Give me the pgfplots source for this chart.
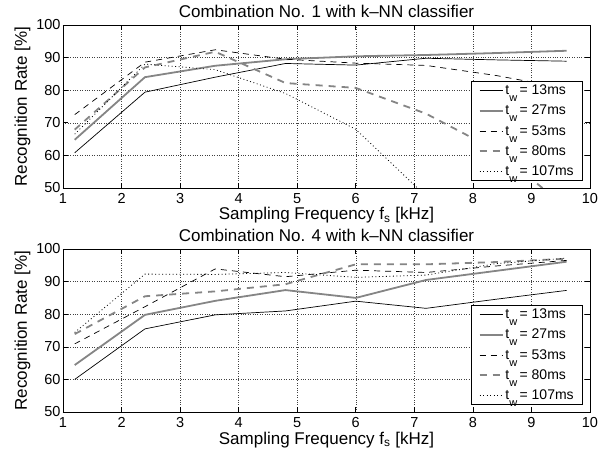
\documentclass[border=0pt]{standalone}
\usepackage{fontspec}
\setmainfont{Liberation Sans}
\usepackage{pgfplots}
\pgfplotsset{compat=1.18}
\definecolor{mgray}{gray}{0.52}

\newcommand{\tw}[1]{t\raisebox{-0.5em}{\fontsize{11}{11}\selectfont w}\,= #1ms}

\pgfplotsset{
  mstyle/.style={
    scale only axis, width=527pt, height=163pt,
    xmin=1, xmax=10, ymin=50, ymax=100,
    xtick={1,...,10}, ytick={50,60,...,100},
    tick align=inside, major tick length=5pt,
    grid=major, grid style={black!75, dotted, line width=0.5pt},
    axis line style={line width=0.8pt},
    every tick/.style={black, line width=0.6pt},
    ticklabel style={font=\fontsize{14.5}{16}\selectfont},
    /pgf/number format/assume math mode=true,
    xticklabel style={yshift=-2pt},
    yticklabel style={xshift=1pt},
    xlabel={\fontsize{17}{19}\selectfont Sampling Frequency f\textsubscript{s} [kHz]},
    xlabel style={at={(axis description cs:0.5,0)}, anchor=base, yshift=-32pt},
    ylabel={\fontsize{17}{19}\selectfont Recognition Rate [\%]},
    ylabel style={at={(axis description cs:-0.0769,0.5)}, anchor=center},
    title style={at={(axis description cs:0.5,1)}, anchor=base, yshift=2pt},
    legend cell align=left,
    legend style={at={(0.987,0.043)}, anchor=south east, draw=black,
      line width=0.8pt, font=\fontsize{14}{16}\selectfont,
      row sep=5pt, inner xsep=7pt, inner ysep=1.5pt},
    legend image code/.code={\draw[##1] plot coordinates {(0pt,0pt) (23pt,0pt)};},
  },
  s13/.style={black, line width=0.7pt},
  s27/.style={mgray, line width=1.8pt},
  s53/.style={black, line width=0.7pt, dash pattern=on 6pt off 5pt},
  s80/.style={mgray, line width=1.8pt, dash pattern=on 7pt off 6pt},
  s107/.style={black, line width=0.8pt, dash pattern=on 0.9pt off 2.6pt},
}

\begin{document}
\begin{tikzpicture}
\path[use as bounding box] (-63pt,25pt) rectangle (539pt,-425pt);

\begin{axis}[mstyle, at={(0,0)}, anchor=north west,
  title={\fontsize{17}{19}\selectfont Combination No. 1 with k--NN classifier}]
\addplot[s13] coordinates {(1.2,60.8)(2.4,79.4)(3.6,84.0)(4.8,88.2)(6.0,87.7)(7.2,89.8)(8.4,89.3)(9.6,88.9)};
\addlegendentry{\tw{13}}
\addplot[s27] coordinates {(1.2,64.8)(2.4,84.0)(3.6,87.5)(4.8,89.5)(6.0,90.4)(7.2,90.8)(8.4,91.4)(9.6,92.1)};
\addlegendentry{\tw{27}}
\addplot[s53] coordinates {(1.2,72.5)(2.4,88.6)(3.6,92.4)(4.8,89.5)(6.0,88.3)(7.2,87.6)(8.4,84.5)(9.6,80.5)};
\addlegendentry{\tw{53}}
\addplot[s80] coordinates {(1.2,67.9)(2.4,87.0)(3.6,91.8)(4.8,82.2)(6.0,80.7)(7.2,72.8)(8.4,61.5)(9.6,44.0)};
\addlegendentry{\tw{80}}
\addplot[s107] coordinates {(1.2,66.5)(2.4,88.0)(3.6,86.3)(4.8,79.0)(6.0,68.0)(7.2,47.5)(8.4,40.0)(9.6,35.0)};
\addlegendentry{\tw{107}}
\end{axis}

\begin{axis}[mstyle, at={(0,-224pt)}, anchor=north west,
  title={\fontsize{17}{19}\selectfont Combination No. 4 with k--NN classifier}]
\addplot[s13] coordinates {(1.2,60.0)(2.4,75.5)(3.6,79.8)(4.8,81.0)(6.0,84.0)(7.2,81.8)(8.4,84.6)(9.6,87.3)};
\addlegendentry{\tw{13}}
\addplot[s27] coordinates {(1.2,64.4)(2.4,79.8)(3.6,84.1)(4.8,87.4)(6.0,85.0)(7.2,90.5)(8.4,93.3)(9.6,96.1)};
\addlegendentry{\tw{27}}
\addplot[s53] coordinates {(1.2,70.9)(2.4,82.3)(3.6,93.9)(4.8,91.5)(6.0,93.5)(7.2,92.8)(8.4,94.8)(9.6,96.5)};
\addlegendentry{\tw{53}}
\addplot[s80] coordinates {(1.2,73.9)(2.4,85.5)(3.6,87.0)(4.8,89.2)(6.0,95.3)(7.2,95.3)(8.4,96.0)(9.6,97.0)};
\addlegendentry{\tw{80}}
\addplot[s107] coordinates {(1.2,74.4)(2.4,92.3)(3.6,92.2)(4.8,92.8)(6.0,91.3)(7.2,92.0)(8.4,95.5)(9.6,97.2)};
\addlegendentry{\tw{107}}
\end{axis}
\end{tikzpicture}
\end{document}
